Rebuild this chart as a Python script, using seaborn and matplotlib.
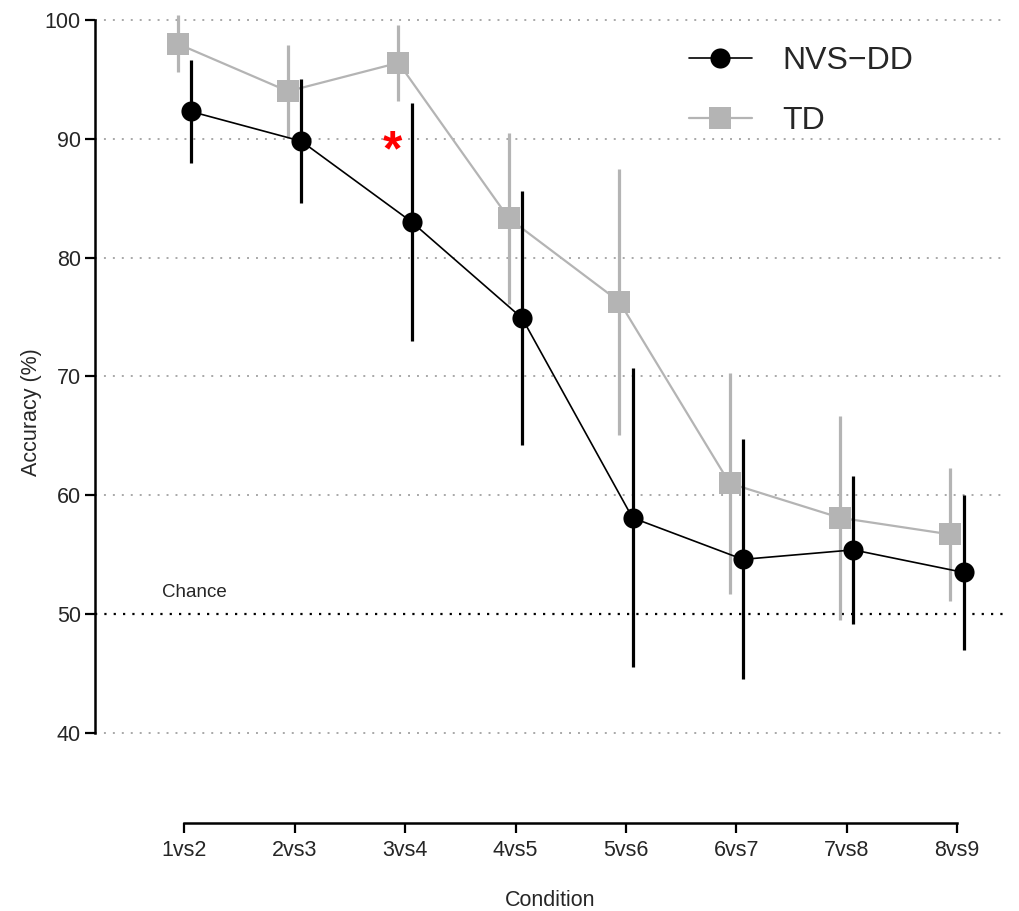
import matplotlib
matplotlib.use("Agg")
import matplotlib.pyplot as plt
import numpy as np
import pandas as pd
import seaborn as sns

# Conditions (numerical distance comparisons)
conditions = ["1vs2", "2vs3", "3vs4", "4vs5", "5vs6", "6vs7", "7vs8", "8vs9"]

# Mean accuracy (%) and error (± SD) per group
nvs_mean = [92.3, 89.8, 83.0, 74.9, 58.1, 54.6, 55.4, 53.5]
nvs_err = [4.3, 5.2, 10.0, 10.7, 12.6, 10.1, 6.2, 6.5]
td_mean = [98.0, 94.0, 96.4, 83.3, 76.3, 61.0, 58.1, 56.7]
td_err = [2.4, 3.9, 3.2, 7.2, 11.2, 9.3, 8.6, 5.6]

y_ticks = [40, 50, 60, 70, 80, 90, 100]
chance_level = 50
significant = ["3vs4"]

groups = {
    "TD": dict(mean=td_mean, err=td_err, color="#b4b4b4", marker="s", ms=15.5, lw=1.6, shift=-0.06),
    "NVS\u2212DD": dict(mean=nvs_mean, err=nvs_err, color="black", marker="o", ms=14.5, lw=1.2, shift=0.06),
}

sns.set_theme(style="ticks")
plt.rcParams["font.family"] = ["Liberation Sans", "DejaVu Sans"]
text_color = "#262626"

fig = plt.figure(figsize=(10.2, 9.11), dpi=100)
ax = fig.add_axes([95 / 1020, (911 - 823) / 911, (1005 - 95) / 1020, (823 - 2.2) / 911])

# Horizontal reference lines
for yv in y_ticks:
    if yv == chance_level:
        ax.axhline(yv, color="black", lw=1.6, ls=(0, (1, 3.2)), zorder=1)
    else:
        ax.axhline(yv, color="#a8a8a8", lw=1.4, ls=(0, (1, 3.6)), zorder=1)

base_x = np.arange(len(conditions))
for i, (name, g) in enumerate(groups.items()):
    x = base_x + g["shift"]
    df = pd.DataFrame({"x": x, "acc": g["mean"]})
    z = 3 + 2 * i
    ax.errorbar(x, g["mean"], yerr=g["err"], fmt="none", ecolor=g["color"],
                elinewidth=2.3, capsize=0, zorder=z)
    sns.lineplot(data=df, x="x", y="acc", ax=ax, color=g["color"], lw=g["lw"],
                 marker=g["marker"], markersize=g["ms"], markeredgewidth=0,
                 markeredgecolor=g["color"], zorder=z + 1, label=name, legend=False)

# Chance label and significance marker
ax.text(-0.2, 51.85, "Chance", fontsize=13.5, color=text_color, ha="left", va="center")
for c in significant:
    ax.text(conditions.index(c) - 0.11, 88.9, "*", fontsize=36, color="red",
            ha="center", va="center", fontweight="bold")

ax.set_xlim(-0.809, 7.434)
ax.set_ylim(32.41, 101.5)
ax.set_xticks(base_x)
ax.set_xticklabels(conditions)
ax.set_yticks(y_ticks)
ax.tick_params(axis="both", length=7.2, width=1.6, colors="black", labelsize=15.5,
               labelcolor=text_color)
ax.tick_params(axis="y", pad=3)
ax.tick_params(axis="x", pad=5)
ax.set_xlabel("Condition", fontsize=15.5, color=text_color, labelpad=21)
ax.set_ylabel("Accuracy (%)", fontsize=15.5, color=text_color, labelpad=2)

sns.despine(ax=ax)
ax.spines["left"].set_bounds(40, 100)
ax.spines["bottom"].set_bounds(0, 7)
for s in ("left", "bottom"):
    ax.spines[s].set_linewidth(1.8)
    ax.spines[s].set_color("black")

# Legend: NVS-DD first, then TD
h, l = ax.get_legend_handles_labels()
order = [l.index("NVS\u2212DD"), l.index("TD")]
ax.legend([h[k] for k in order], [l[k] for k in order], loc="upper left",
          bbox_to_anchor=((689 - 95) / 910, 1 - (46 - 2.2) / 820.8), frameon=False,
          fontsize=23, handlelength=1.97, handletextpad=0.94, labelspacing=0.95,
          borderpad=0, borderaxespad=0)

fig.savefig("out.png", dpi=100)
